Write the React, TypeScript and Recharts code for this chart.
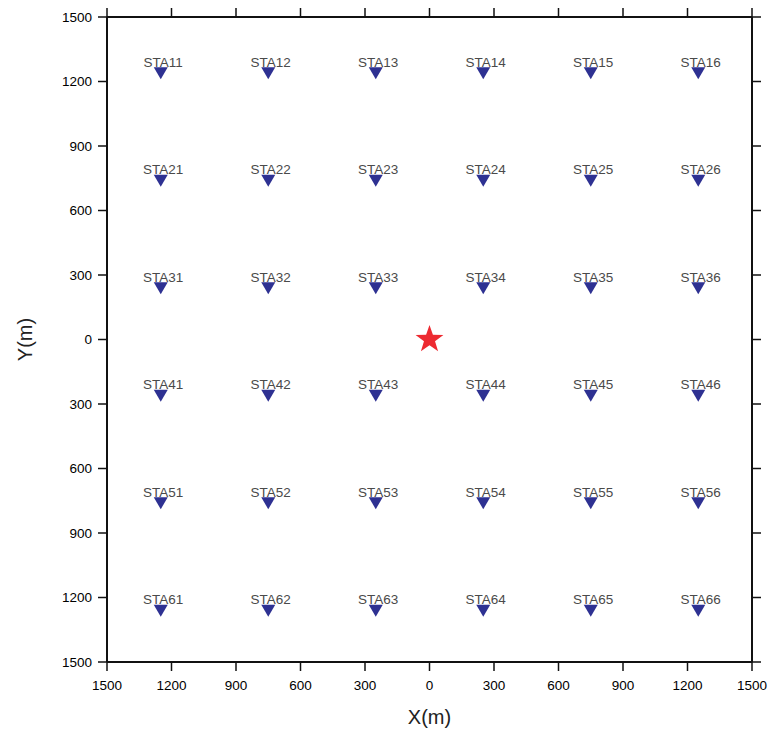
import { ScatterChart, Scatter, XAxis, YAxis } from "recharts";

// station grid (metres)
const stationX = [-1250, -750, -250, 250, 750, 1250];
const stationY = [1250, 750, 250, -250, -750, -1250];
const stationNames = [
  ["STA11", "STA12", "STA13", "STA14", "STA15", "STA16"],
  ["STA21", "STA22", "STA23", "STA24", "STA25", "STA26"],
  ["STA31", "STA32", "STA33", "STA34", "STA35", "STA36"],
  ["STA41", "STA42", "STA43", "STA44", "STA45", "STA46"],
  ["STA51", "STA52", "STA53", "STA54", "STA55", "STA56"],
  ["STA61", "STA62", "STA63", "STA64", "STA65", "STA66"],
];
const source = [{ x: 0, y: 0 }];
const axisTicks = [-1500, -1200, -900, -600, -300, 0, 300, 600, 900, 1200, 1500];

const stations = stationY.flatMap((y, r) =>
  stationX.map((x, c) => ({ x, y, name: stationNames[r][c] }))
);

const abs = (v: number) => String(Math.abs(v));
const noLabel = () => <g />;
const tickFont = { fontSize: 13.5, fill: "#000" };
const lineStyle = { stroke: "#111", strokeWidth: 2 };
const tickStyle = { stroke: "#111", strokeWidth: 1.5 };

function Triangle(props: any) {
  const { cx, cy, payload } = props;
  return (
    <g>
      <polygon
        points={`${cx - 7},${cy - 3.5} ${cx + 7},${cy - 3.5} ${cx},${cy + 8.5}`}
        fill="#2e3192"
      />
      <text x={cx + 2.5} y={cy - 4} textAnchor="middle" fontSize={13.5} fill="#4a4a4a">
        {payload.name}
      </text>
    </g>
  );
}

function Star(props: any) {
  const { cx, cy } = props;
  const R = 14.6;
  const r = 5.8;
  const pts: string[] = [];
  for (let i = 0; i < 10; i++) {
    const rad = i % 2 === 0 ? R : r;
    const a = -Math.PI / 2 + (i * Math.PI) / 5;
    pts.push(`${cx + rad * Math.cos(a)},${cy + rad * Math.sin(a)}`);
  }
  return <polygon points={pts.join(" ")} fill="#ed2a31" />;
}

export default function App() {
  return (
    <div style={{ width: 771, height: 731, fontFamily: "'Liberation Sans', Arial, sans-serif" }}>
      <style>{"body{margin:0}"}</style>
      <ScatterChart width={771} height={731} margin={{ top: 16, right: 18, bottom: 0, left: 0 }}>
        <XAxis
          xAxisId="b"
          type="number"
          dataKey="x"
          domain={[-1500, 1500]}
          ticks={axisTicks}
          interval={0}
          tickFormatter={abs}
          height={69}
          tickSize={9}
          tickMargin={9}
          tick={tickFont}
          axisLine={lineStyle}
          tickLine={tickStyle}
          label={{
            content: ({ viewBox }: any) => (
              <text
                x={viewBox.x + viewBox.width / 2}
                y={viewBox.y + 62}
                textAnchor="middle"
                fontSize={20}
                fill="#222"
              >
                X(m)
              </text>
            ),
          }}
        />
        <XAxis
          xAxisId="t"
          orientation="top"
          type="number"
          dataKey="x"
          domain={[-1500, 1500]}
          ticks={axisTicks}
          interval={0}
          tick={noLabel}
          height={1}
          tickSize={9}
          axisLine={lineStyle}
          tickLine={tickStyle}
        />
        <YAxis
          yAxisId="l"
          type="number"
          dataKey="y"
          domain={[-1500, 1500]}
          ticks={axisTicks}
          interval={0}
          tickFormatter={abs}
          width={107}
          tickSize={9}
          tickMargin={6}
          tick={tickFont}
          axisLine={lineStyle}
          tickLine={tickStyle}
          label={{
            content: ({ viewBox }: any) => {
              const x = viewBox.x + 25;
              const y = viewBox.y + viewBox.height / 2;
              return (
                <text
                  x={x}
                  y={y}
                  dy={7}
                  textAnchor="middle"
                  fontSize={20}
                  fill="#222"
                  transform={`rotate(-90 ${x} ${y})`}
                >
                  Y(m)
                </text>
              );
            },
          }}
        />
        <YAxis
          yAxisId="r"
          orientation="right"
          type="number"
          dataKey="y"
          domain={[-1500, 1500]}
          ticks={axisTicks}
          interval={0}
          tick={noLabel}
          width={1}
          tickSize={9}
          axisLine={lineStyle}
          tickLine={tickStyle}
        />
        <Scatter xAxisId="b" yAxisId="l" data={stations} shape={Triangle} isAnimationActive={false} />
        <Scatter xAxisId="t" yAxisId="r" data={source} shape={Star} isAnimationActive={false} />
      </ScatterChart>
    </div>
  );
}
